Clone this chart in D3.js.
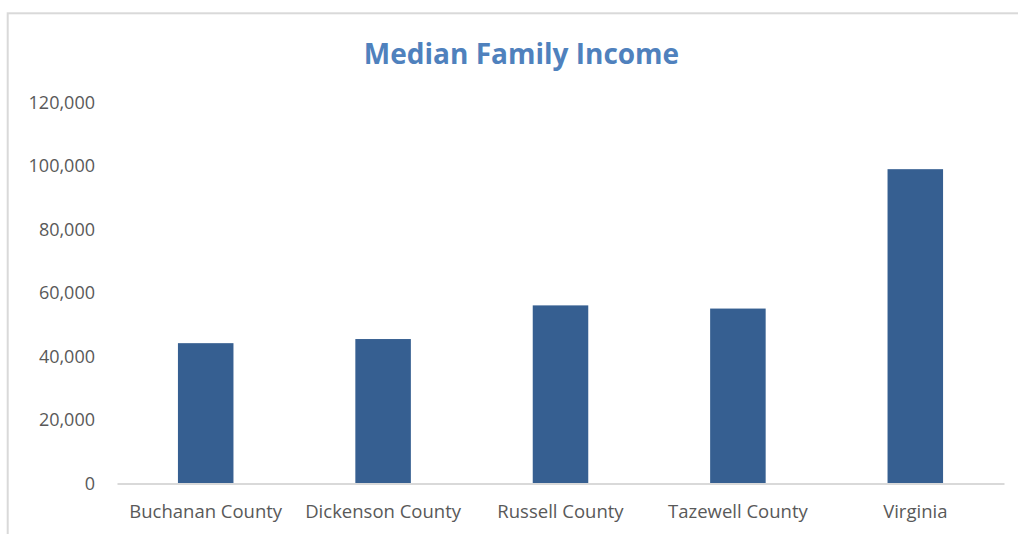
<!DOCTYPE html>
<html>
<head>
<meta charset="utf-8">
<script src="https://cdn.jsdelivr.net/npm/d3@7"></script>
<style>
  html, body { margin: 0; padding: 0; background: #fff; }
  svg { display: block; }
</style>
</head>
<body>
<svg id="chart" width="1018" height="534"></svg>
<script>
// Median family income by area
const categories = ["Buchanan County", "Dickenson County", "Russell County", "Tazewell County", "Virginia"];
const incomes = [44200, 45500, 56100, 55100, 99000];
const yTicks = [0, 20000, 40000, 60000, 80000, 100000, 120000];
const title = "Median Family Income";

const W = 1018, H = 534;
const plot = { left: 117, right: 1004, top: 102.5, bottom: 483.5 };

const svg = d3.select("#chart");
const font = "'Open Sans', 'DejaVu Sans', sans-serif";

// chart frame
svg.append("rect")
  .attr("x", 7.7).attr("y", 13.3)
  .attr("width", 1100).attr("height", 600)
  .attr("fill", "none")
  .attr("stroke", "#d9d9d9")
  .attr("stroke-width", 2);

// title
svg.append("text")
  .attr("x", 521.5).attr("y", 63.5)
  .attr("text-anchor", "middle")
  .attr("font-family", font)
  .attr("font-weight", 700)
  .attr("font-size", 28)
  .attr("fill", "#4f81bd")
  .text(title);

const x = d3.scaleBand()
  .domain(categories)
  .range([plot.left, plot.right])
  .paddingInner(0.687)
  .paddingOuter(0.3435);

const y = d3.scaleLinear()
  .domain([0, 120000])
  .range([plot.bottom, plot.top]);

// value axis labels (no axis line)
const yAxis = svg.append("g")
  .attr("transform", `translate(${plot.left},0)`)
  .call(d3.axisLeft(y).tickValues(yTicks).tickFormat(d3.format(",")).tickSize(0).tickPadding(22));
yAxis.select(".domain").remove();
yAxis.selectAll("text")
  .attr("font-family", font)
  .attr("font-size", 18)
  .attr("fill", "#595959");

// bars
svg.append("g")
  .selectAll("rect")
  .data(incomes)
  .join("rect")
  .attr("x", (d, i) => x(categories[i]))
  .attr("y", d => y(d))
  .attr("width", x.bandwidth())
  .attr("height", d => y(0) - y(d))
  .attr("fill", "#365f91");

// category axis
const xAxis = svg.append("g")
  .attr("transform", `translate(0,${plot.bottom})`)
  .call(d3.axisBottom(x).tickSize(0).tickPadding(21));
xAxis.select(".domain")
  .attr("stroke", "#d9d9d9")
  .attr("stroke-width", 2);
xAxis.selectAll("text")
  .attr("font-family", font)
  .attr("font-size", 18.5)
  .attr("fill", "#595959");
</script>
</body>
</html>
